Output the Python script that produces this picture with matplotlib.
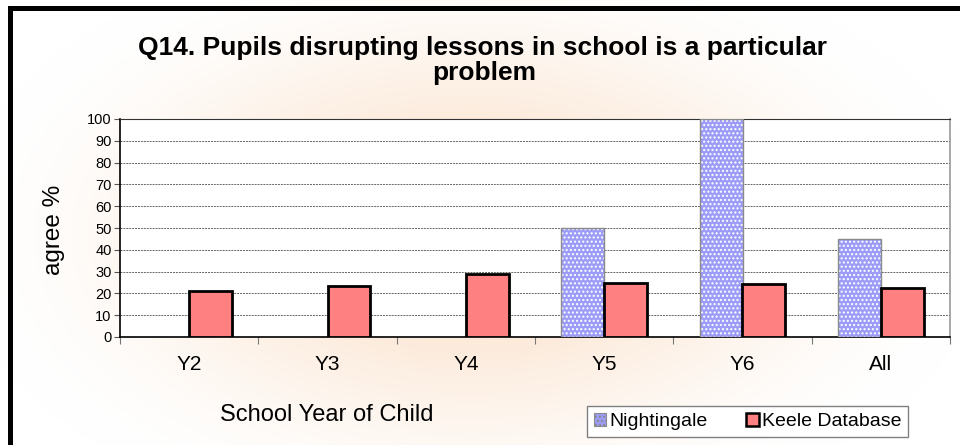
import numpy as np
import matplotlib
matplotlib.use("Agg")
import matplotlib.pyplot as plt
from matplotlib.patches import Patch
from matplotlib.lines import Line2D

plt.rcParams['font.family'] = ['Liberation Sans', 'DejaVu Sans']

# -- data --
years = ['Y2', 'Y3', 'Y4', 'Y5', 'Y6', 'All']
nightingale = [np.nan, np.nan, np.nan, 50, 100, 45]
keele = [21, 23.3, 29, 25, 24.5, 22.5]

W, H = 960, 445
fig = plt.figure(figsize=(W / 100, H / 100), dpi=100)
fig.patch.set_facecolor('white')

# -- soft peach radial background --
bg = fig.add_axes([0, 0, 1, 1], zorder=0)
yy, xx = np.mgrid[0:H, 0:W]
r = np.sqrt(((xx - 470) / 520.0) ** 2 + ((yy - 235) / 300.0) ** 2)
t = np.clip(1 - r, 0, 1)
t = t * t * (3 - 2 * t)  # smoothstep
peach = np.array([251, 226, 204]) / 255.0
img = 1 - t[..., None] * (1 - peach)
bg.imshow(img, extent=[0, W, H, 0], aspect='auto', interpolation='bilinear')
bg.set_xlim(0, W)
bg.set_ylim(H, 0)
bg.axis('off')

# black frame (top and left edges visible)
bg.add_line(Line2D([9.5, 9.5], [7.5, H], color='black', lw=3.6, solid_capstyle='projecting'))
bg.add_line(Line2D([9.5, W], [7.5, 7.5], color='black', lw=3.6, solid_capstyle='projecting'))

# -- main axes --
ax = fig.add_axes([120 / W, 108 / H, 830 / W, 218 / H], zorder=2)
ax.set_facecolor('white')
x = np.arange(len(years))
bw = 0.31

ax.bar(x - bw / 2, nightingale, bw, color='#9c9cf8', edgecolor='white', linewidth=0,
       hatch='....', zorder=3)
ax.bar(x - bw / 2, nightingale, bw, fill=False, edgecolor='#8a8a8a', linewidth=1.0, zorder=4)
ax.bar(x + bw / 2, keele, bw, color='#ff8080', edgecolor='black', linewidth=2.0, zorder=4)

ax.set_xlim(-0.5, len(years) - 0.5)
ax.set_ylim(0, 100)
ax.set_yticks(np.arange(0, 101, 10))
ax.tick_params(axis='y', labelsize=10.5, length=4, width=0.8, color='#555555', pad=2)
ax.yaxis.grid(True, linestyle=(0, (2, 1)), color='#666666', linewidth=0.7, zorder=1)
ax.set_axisbelow(True)

ax.set_xticks(np.arange(-0.5, len(years), 1.0))
ax.set_xticklabels([])
ax.set_xticks(x, minor=True)
ax.set_xticklabels(years, minor=True)
ax.tick_params(axis='x', which='major', length=5, width=0.8, color='#777777')
ax.tick_params(axis='x', which='minor', length=0, labelsize=15, pad=13)

for side in ['left', 'bottom']:
    ax.spines[side].set_color('black')
    ax.spines[side].set_linewidth(1.2)
ax.spines['top'].set_color('#333333')
ax.spines['top'].set_linewidth(0.8)
ax.spines['right'].set_color('#999999')
ax.spines['right'].set_linewidth(1.2)

# -- texts --
fig.text(482 / W, 1 - 55 / H, 'Q14. Pupils disrupting lessons in school is a particular',
         ha='center', va='baseline', fontsize=19, fontweight='bold', zorder=3)
fig.text(484 / W, 1 - 80 / H, 'problem',
         ha='center', va='baseline', fontsize=19, fontweight='bold', zorder=3)
fig.text(54 / W, 1 - 230 / H, 'agree %', rotation=90, ha='center', va='center',
         fontsize=17.5, zorder=3)
fig.text(327 / W, 1 - 415 / H, 'School Year of Child', ha='center', va='center',
         fontsize=17, zorder=3)

# -- legend --
handles = [Patch(facecolor='#9c9cf8', edgecolor='#8a8a8a', hatch='....', linewidth=0.8),
           Patch(facecolor='#ff8080', edgecolor='black', linewidth=1.8)]
leg = fig.legend(handles, ['Nightingale', 'Keele Database'], ncol=2,
                 loc='center', bbox_to_anchor=(747.5 / W, 1 - 421.5 / H),
                 fontsize=14, frameon=True, fancybox=False, edgecolor='#808080',
                 framealpha=1, handlelength=0.65, handleheight=0.65,
                 handletextpad=0.15, columnspacing=2.0, borderpad=0.35,
                 borderaxespad=0)
leg.get_frame().set_linewidth(1.0)
leg.set_zorder(5)

fig.savefig('out.png', dpi=100)
